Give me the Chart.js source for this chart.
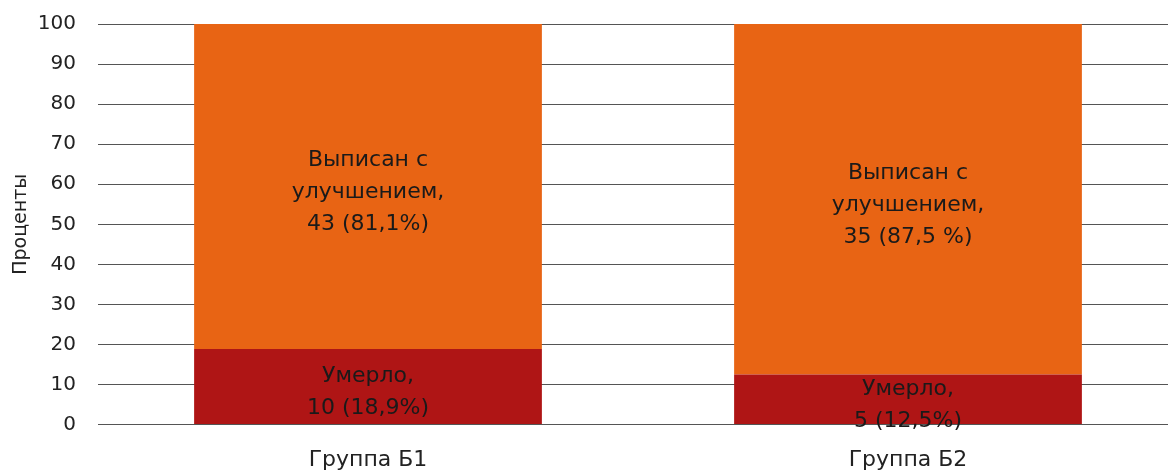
<!DOCTYPE html>
<html>
<head>
<meta charset="utf-8">
<script src="https://cdn.jsdelivr.net/npm/chart.js@4.4.0/dist/chart.umd.min.js"></script>
<style>
html,body{margin:0;padding:0;background:#fff;overflow:hidden;}
#wrap{width:1178px;height:482px;position:relative;top:-10px;}
</style>
</head>
<body>
<div id="wrap"><canvas id="c"></canvas></div>
<script>
const categories = ["Группа Б1", "Группа Б2"];
const diedValues = [18.9, 12.5];
const improvedValues = [81.1, 87.5];
const diedLabels = [["Умерло,", "10 (18,9%)"], ["Умерло,", "5 (12,5%)"]];
const improvedLabels = [["Выписан с", "улучшением,", "43 (81,1%)"], ["Выписан с", "улучшением,", "35 (87,5 %)"]];
const yTicks = [0,10,20,30,40,50,60,70,80,90,100];

const FONT = "'DejaVu Sans', sans-serif";

const labelPlugin = {
  id: 'segLabels',
  afterDatasetsDraw(chart) {
    const ctx = chart.ctx;
    ctx.save();
    ctx.font = "22px " + FONT;
    ctx.fillStyle = "#1a1a1a";
    ctx.textAlign = "center";
    ctx.textBaseline = "middle";
    chart.data.datasets.forEach((ds, di) => {
      const meta = chart.getDatasetMeta(di);
      meta.data.forEach((bar, i) => {
        const lines = ds.segLabels[i];
        const cy = (bar.y + bar.base) / 2 + 6;
        const lh = 32;
        const start = cy - (lines.length - 1) * lh / 2;
        lines.forEach((t, k) => ctx.fillText(t, bar.x, start + k * lh));
      });
    });
    ctx.restore();
  }
};

new Chart(document.getElementById('c'), {
  type: 'bar',
  data: {
    labels: categories,
    datasets: [
      { label: 'Умерло', data: diedValues, backgroundColor: '#AF1515', segLabels: diedLabels,
        barPercentage: 0.644, categoryPercentage: 1.0 },
      { label: 'Выписан с улучшением', data: improvedValues, backgroundColor: '#E86414', segLabels: improvedLabels,
        barPercentage: 0.644, categoryPercentage: 1.0 }
    ]
  },
  options: {
    responsive: true,
    maintainAspectRatio: false,
    animation: false,
    layout: { padding: { top: 0, left: 0, right: 0, bottom: -23 } },
    plugins: { legend: { display: false }, tooltip: { enabled: false } },
    scales: {
      x: {
        stacked: true,
        grid: { display: false, drawTicks: false },
        border: { display: false },
        ticks: { color: '#222', font: { family: FONT, size: 22 }, padding: 22 }
      },
      y: {
        stacked: true,
        min: 0, max: 100,
        afterBuildTicks(axis) { axis.ticks = yTicks.map(v => ({ value: v })); },
        afterFit(axis) { axis.width = 98; },
        grid: { color: '#555', lineWidth: 1, drawTicks: false },
        border: { display: false },
        ticks: { color: '#222', font: { family: FONT, size: 20 }, padding: 22 },
        title: { display: true, text: 'Проценты', color: '#222', font: { family: FONT, size: 19 }, padding: { top: 10, bottom: 5 } }
      }
    }
  },
  plugins: [labelPlugin]
});
</script>
</body>
</html>
